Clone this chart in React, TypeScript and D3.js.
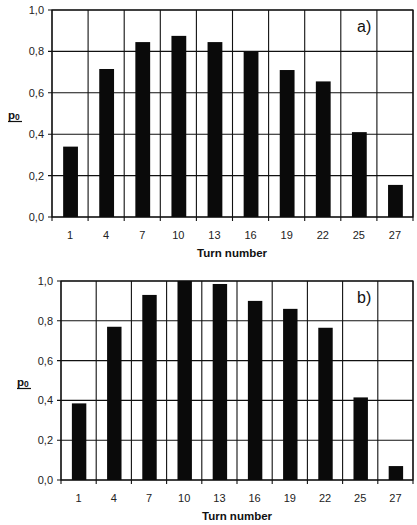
import React from "react";
import * as d3 from "d3";

const turns = ["1", "4", "7", "10", "13", "16", "19", "22", "25", "27"];
const valuesA = [0.34, 0.715, 0.845, 0.875, 0.845, 0.8, 0.71, 0.655, 0.41, 0.155];
const valuesB = [0.385, 0.77, 0.93, 1.0, 0.985, 0.9, 0.86, 0.765, 0.415, 0.07];
const yTicks = [0, 0.2, 0.4, 0.6, 0.8, 1.0];
const panelLabels = ["a)", "b)"];
const xTitle = "Turn number";

const FONT = "'Liberation Sans', Arial, sans-serif";

type PanelProps = {
  values: number[];
  label: string;
  left: number;
  right: number;
  top: number;
  bottom: number;
  yLabelX: number;
  titleY: number;
  titleX: number;
};

function Panel({ values, label, left, right, top, bottom, yLabelX, titleY, titleX }: PanelProps) {
  const x = d3.scaleBand<string>().domain(turns).range([left, right]).paddingInner(0).paddingOuter(0);
  const y = d3.scaleLinear().domain([0, 1]).range([bottom, top]);
  const bw = x.bandwidth();
  const barW = bw * 0.41;
  const fmt = (v: number) => v.toFixed(1).replace(".", ",");
  const boundaries = turns.map((t) => x(t)!).concat([right]);
  const midY = (top + bottom) / 2;
  return (
    <g>
      <rect x={left} y={top} width={right - left} height={bottom - top} fill="#fff" stroke="#111" strokeWidth={1.2} />
      {yTicks.map((t) => (
        <g key={t}>
          <line x1={left - 4} x2={right} y1={y(t)} y2={y(t)} stroke="#111" strokeWidth={1.1} />
          <text x={left - 8} y={y(t) + 4} fontSize={11} fontFamily={FONT} textAnchor="end" fill="#222">
            {fmt(t)}
          </text>
        </g>
      ))}
      {boundaries.map((bx, i) => (
        <line key={i} x1={bx} x2={bx} y1={top} y2={bottom + 4} stroke="#111" strokeWidth={1.1} />
      ))}
      {values.map((v, i) => (
        <rect
          key={i}
          x={x(turns[i])! + (bw - barW) / 2 + 0.5}
          y={y(v)}
          width={barW}
          height={bottom - y(v)}
          fill="#0a0a0a"
        />
      ))}
      {turns.map((t) => (
        <text key={t} x={x(t)! + bw / 2} y={bottom + 21.5} fontSize={11} fontFamily={FONT} textAnchor="middle" fill="#222">
          {t}
        </text>
      ))}
      <text x={titleX} y={titleY} fontSize={11.5} fontWeight="bold" fontFamily={FONT} textAnchor="middle" fill="#111">
        {xTitle}
      </text>
      <text x={yLabelX} y={midY + 5} fontSize={11.5} fontWeight="bold" fontFamily={FONT} fill="#111">
        p<tspan fontSize={8.5} dy={1}>0</tspan>
      </text>
      <line x1={yLabelX} x2={yLabelX + 14} y1={midY + 8} y2={midY + 8} stroke="#111" strokeWidth={1.2} />
      <text x={right - 56} y={top + 22} fontSize={16} fontFamily={FONT} fill="#111">
        {label}
      </text>
    </g>
  );
}

export default function App() {
  return (
    <svg width={417} height={525} style={{ position: "absolute", left: 0, top: 0 }}>
      <rect width={417} height={525} fill="#fff" />
      <Panel values={valuesA} label={panelLabels[0]} left={52} right={413} top={10} bottom={217} yLabelX={8} titleY={257} titleX={232} />
      <Panel values={valuesB} label={panelLabels[1]} left={61} right={413} top={281} bottom={480} yLabelX={17} titleY={520} titleX={237} />
    </svg>
  );
}
